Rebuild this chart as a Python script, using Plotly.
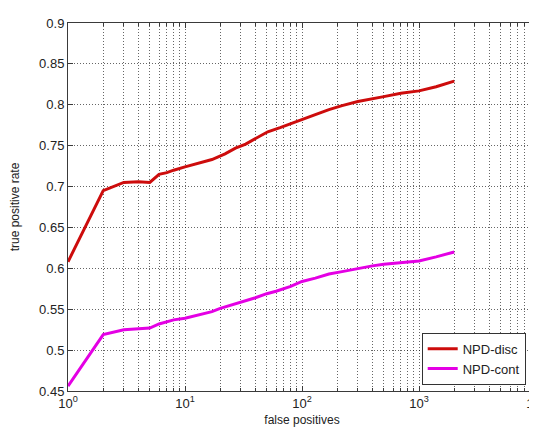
import plotly.graph_objects as go

# False positives (x) and true positive rate (y) for each curve
fp_disc = [1, 2, 3, 4, 5, 6, 7, 8, 10, 13, 17, 22, 27, 33, 40, 51, 65, 80, 100,
           130, 170, 220, 300, 400, 500, 700, 1000, 1400, 2000]
tpr_disc = [0.608, 0.695, 0.705, 0.706, 0.705, 0.715, 0.717, 0.720, 0.724, 0.728,
            0.733, 0.740, 0.747, 0.752, 0.759, 0.767, 0.772, 0.777, 0.782, 0.788,
            0.794, 0.799, 0.804, 0.807, 0.810, 0.814, 0.817, 0.822, 0.829]

fp_cont = [1, 2, 3, 4, 5, 6, 7, 8, 10, 13, 17, 20, 25, 30, 40, 50, 60, 80, 100,
           130, 170, 220, 300, 400, 500, 700, 1000, 1400, 2000]
tpr_cont = [0.456, 0.519, 0.525, 0.526, 0.527, 0.532, 0.535, 0.537, 0.539, 0.543,
            0.547, 0.551, 0.555, 0.558, 0.564, 0.569, 0.572, 0.578, 0.584, 0.588,
            0.593, 0.596, 0.600, 0.603, 0.605, 0.607, 0.609, 0.614, 0.620]

series_names = ["NPD-disc", "NPD-cont"]
series_colors = ["rgb(205,12,12)", "rgb(228,0,228)"]

x_major = [1, 10, 100, 1000, 10000]
x_major_text = ["10<sup>0</sup>", "10<sup>1</sup>", "10<sup>2</sup>",
                "10<sup>3</sup>", "10<sup>4</sup>"]
x_minor = [m * d for d in [1, 10, 100, 1000] for m in range(2, 10)]
y_ticks = [0.45, 0.5, 0.55, 0.6, 0.65, 0.7, 0.75, 0.8, 0.85, 0.9]
y_ticktext = ["0.45", "0.5", "0.55", "0.6", "0.65", "0.7", "0.75", "0.8", "0.85", "0.9"]

fig = go.Figure()
for xs, ys, name, col in [(fp_disc, tpr_disc, series_names[0], series_colors[0]),
                          (fp_cont, tpr_cont, series_names[1], series_colors[1])]:
    fig.add_trace(go.Scatter(x=xs, y=ys, mode="lines", name=name,
                             line=dict(color=col, width=3)))

grid_col = "rgba(0,0,0,0.6)"
grid_dash = "1px,2px"
axis_col = "#3a3a3a"
font = dict(family="Liberation Sans, Arial, sans-serif", size=13, color="#222")

fig.update_layout(
    width=537, height=428,
    margin=dict(l=60, r=9, t=15, b=45),
    paper_bgcolor="white", plot_bgcolor="white",
    font=font,
    showlegend=True,
    legend=dict(x=0.978, y=0.017, xanchor="right", yanchor="bottom",
                bgcolor="white", bordercolor="#333", borderwidth=1,
                font=dict(size=13, color="#222"),
                tracegroupgap=0,
                ),
    xaxis=dict(
        type="log", range=[0, 4], automargin=False,
        tickvals=x_major, ticktext=x_major_text,
        ticklabeloverflow="allow",
        ticks="inside", ticklen=5, tickcolor=axis_col,
        showline=True, linecolor=axis_col, linewidth=1, mirror="ticks",
        showgrid=True, gridcolor=grid_col, griddash=grid_dash, gridwidth=1,
        zeroline=False,
        tickfont=dict(size=13),
        minor=dict(tickvals=x_minor, ticks="inside", ticklen=3,
                   tickcolor=axis_col, showgrid=True, gridcolor=grid_col,
                   griddash=grid_dash, gridwidth=1),
        title=dict(text="false positives", font=dict(size=12), standoff=6),
    ),
    yaxis=dict(
        range=[0.45, 0.9], automargin=False,
        tickvals=y_ticks, ticktext=y_ticktext,
        ticks="inside", ticklen=5, tickcolor=axis_col,
        showline=True, linecolor=axis_col, linewidth=1, mirror="ticks",
        showgrid=True, gridcolor=grid_col, griddash=grid_dash, gridwidth=1,
        zeroline=False,
        tickfont=dict(size=13),
        title=dict(text="true positive rate", font=dict(size=12), standoff=18),
    ),
)

fig.write_html("out.html")
